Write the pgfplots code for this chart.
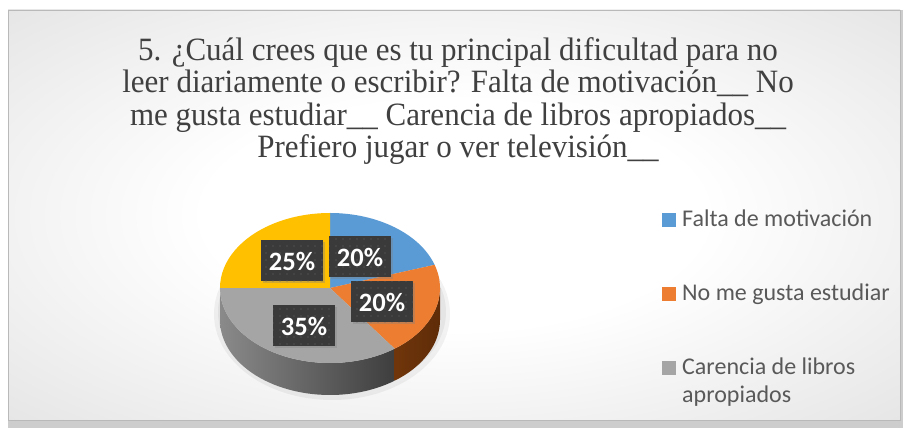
\documentclass[border=0pt]{standalone}
\usepackage{pgfplots}
\pgfplotsset{compat=1.18}
\usepackage{pgfplotstable}
\usepackage{fontspec}
\usepackage{graphicx}
\setmainfont{Liberation Serif}
\newfontfamily\calibri{Carlito}
\usetikzlibrary{patterns.meta,shadows}

\definecolor{cBlue}{HTML}{5B9BD5}
\definecolor{cOrange}{HTML}{ED7D31}
\definecolor{cGray}{HTML}{A5A5A5}
\definecolor{cYellow}{HTML}{FFC000}
\definecolor{sGrayL}{HTML}{8A8A8A}
\definecolor{sGrayR}{HTML}{3E3E3E}
\definecolor{sOrangeL}{HTML}{8A430F}
\definecolor{sOrangeR}{HTML}{5E2C08}
\definecolor{bgGray}{HTML}{C9C9C9}
\definecolor{bgOuter}{HTML}{CDCDCD}
\definecolor{titleGray}{HTML}{404040}
\definecolor{legGray}{HTML}{595959}
\definecolor{boxFill}{HTML}{3A3A3A}

\pgfdeclareradialshading{bgshade}{\pgfpoint{0bp}{0bp}}{%
  color(0bp)=(white); color(14bp)=(white); color(60bp)=(bgGray); color(72bp)=(bgGray)}

% ---- data ----
\pgfplotstableread{
label value
Falta 20
NoMe 20
Carencia 35
Prefiero 25
}\piedata

\pgfplotstablegetelem{0}{value}\of\piedata \let\vA\pgfplotsretval
\pgfplotstablegetelem{1}{value}\of\piedata \let\vB\pgfplotsretval
\pgfplotstablegetelem{2}{value}\of\piedata \let\vC\pgfplotsretval
\pgfplotstablegetelem{3}{value}\of\piedata \let\vD\pgfplotsretval

% slice boundary angles (clockwise from 12 o'clock)
\pgfmathsetmacro\aA{90}
\pgfmathsetmacro\aB{\aA-3.6*\vA}
\pgfmathsetmacro\aC{\aB-3.6*\vB}
\pgfmathsetmacro\aD{\aC-3.6*\vC}
\pgfmathsetmacro\aE{\aD-3.6*\vD}
% visible side parts (front half: -180..0)
\pgfmathsetmacro\loB{max(\aC,-180)}\pgfmathsetmacro\hiB{max(min(\aB,0),\loB)}
\pgfmathsetmacro\loC{max(\aD,-180)}\pgfmathsetmacro\hiC{max(min(\aC,0),\loC)}

\def\cx{330}\def\cy{140}
\newcommand\ttl[1]{\scalebox{1}[1.05]{#1}}

\begin{document}
\begin{tikzpicture}
\begin{axis}[
  width=903pt, height=428pt, scale only axis,
  xmin=0, xmax=903, ymin=0, ymax=428,
  axis lines=none, clip=false,
]
% background
\fill[white] (axis cs:0,0) rectangle (axis cs:903,428);
\fill[bgOuter] (axis cs:8,0) rectangle (axis cs:903,418);
\shade[shading=bgshade] (axis cs:8,8) rectangle (axis cs:900,418);
\draw[gray!55, line width=0.8pt] (axis cs:8,8) rectangle (axis cs:900,418);

% title
\tikzset{ttlsty/.style={anchor=base, text=titleGray, font=\fontsize{31}{33}\selectfont, inner sep=0pt}}
\node[ttlsty] at (axis cs:458,367) {\ttl{5. ¿Cuál crees que es tu principal dificultad para no}};
\node[ttlsty] at (axis cs:458,335) {\ttl{leer diariamente o escribir? Falta de motivación\_\_ No}};
\node[ttlsty] at (axis cs:458,302) {\ttl{me gusta estudiar\_\_ Carencia de libros apropiados\_\_}};
\node[ttlsty] at (axis cs:458,270) {\ttl{Prefiero jugar o ver televisión\_\_}};

% pie shadow
\fill[black, opacity=0.05] (axis cs:332,114) ellipse [x radius=118pt, y radius=86pt];
\fill[black, opacity=0.05] (axis cs:332,116) ellipse [x radius=114pt, y radius=82pt];

% pie sides
\shade[left color=sGrayL, right color=sGrayR]
  (axis cs:\cx,\cy) ++(\loC:110pt and 75pt) arc[start angle=\loC, end angle=\hiC, x radius=110pt, y radius=75pt]
  -- ++(0pt,-32pt) arc[start angle=\hiC, end angle=\loC, x radius=110pt, y radius=75pt] -- cycle;
\shade[left color=sOrangeL, right color=sOrangeR]
  (axis cs:\cx,\cy) ++(\loB:110pt and 75pt) arc[start angle=\loB, end angle=\hiB, x radius=110pt, y radius=75pt]
  -- ++(0pt,-32pt) arc[start angle=\hiB, end angle=\loB, x radius=110pt, y radius=75pt] -- cycle;

% pie top
\fill[cBlue]   (axis cs:\cx,\cy) -- ++(\aA:110pt and 75pt) arc[start angle=\aA, end angle=\aB, x radius=110pt, y radius=75pt] -- cycle;
\fill[cOrange] (axis cs:\cx,\cy) -- ++(\aB:110pt and 75pt) arc[start angle=\aB, end angle=\aC, x radius=110pt, y radius=75pt] -- cycle;
\fill[cGray]   (axis cs:\cx,\cy) -- ++(\aC:110pt and 75pt) arc[start angle=\aC, end angle=\aD, x radius=110pt, y radius=75pt] -- cycle;
\fill[cYellow] (axis cs:\cx,\cy) -- ++(\aD:110pt and 75pt) arc[start angle=\aD, end angle=\aE, x radius=110pt, y radius=75pt] -- cycle;

% data labels
\tikzset{lbl/.style={fill=boxFill, minimum width=62pt, minimum height=41pt, inner sep=0pt,
  text=white, font=\calibri\bfseries\fontsize{26.5}{27}\selectfont,
  postaction={pattern={Dots[distance=7pt, radius=0.7pt]}, pattern color=gray!80!black},
  drop shadow={shadow xshift=2pt, shadow yshift=-2pt, opacity=0.35}}}
\node[lbl] at (axis cs:360,171) {\vA\%};
\node[lbl] at (axis cs:382,126) {\vB\%};
\node[lbl] at (axis cs:304,102) {\vC\%};
\node[lbl] at (axis cs:292,167) {\vD\%};

% legend
\tikzset{legtxt/.style={anchor=base west, inner sep=0pt, text=legGray, font=\calibri\fontsize{24}{26}\selectfont}}
\fill[cBlue]   (axis cs:662,201) rectangle (axis cs:676,215);
\node[legtxt] at (axis cs:682,201) {Falta de motivación};
\fill[cOrange] (axis cs:662,127) rectangle (axis cs:676,141);
\node[legtxt] at (axis cs:682,127) {No me gusta estudiar};
\fill[cGray]   (axis cs:662,53) rectangle (axis cs:676,67);
\node[legtxt] at (axis cs:682,53) {Carencia de libros};
\node[legtxt] at (axis cs:682,25) {apropiados};
\end{axis}
\end{tikzpicture}
\end{document}
